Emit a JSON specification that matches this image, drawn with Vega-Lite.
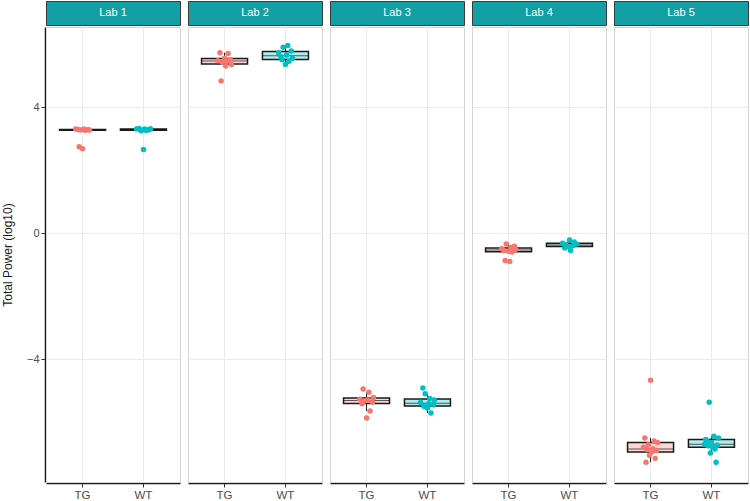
{
  "$schema": "https://vega.github.io/schema/vega-lite/v6.json",
  "padding": {"left": 1, "top": 0, "right": 0, "bottom": 0},
  "background": "white",
  "spacing": 0,
  "config": {
    "font": "Liberation Sans",
    "axisY": {"titleFontSize": 12, "titleFontWeight": "normal", "titleColor": "#1a1a1a", "titlePadding": 12, "labelFontSize": 11, "labelPadding": 2, "tickSize": 4},
    "axisX": {"labelFontSize": 11.5, "labelPadding": 2, "tickSize": 4}
  },
  "vconcat": [
    {
      "data": {"values": [{"lab": "Lab 1"}, {"lab": "Lab 2"}, {"lab": "Lab 3"}, {"lab": "Lab 4"}, {"lab": "Lab 5"}]},
      "facet": {"column": {"field": "lab", "type": "nominal", "header": null}},
      "spacing": {"column": 6},
      "spec": {
        "width": 134,
        "height": 24,
        "view": {"fill": "#13a0a4", "stroke": "#3a3a3a", "strokeWidth": 1},
        "layer": [
          {"mark": {"type": "text", "color": "white", "fontSize": 11}, "encoding": {"text": {"field": "lab", "type": "nominal"}}},
          {"mark": {"type": "rule", "opacity": 0}, "encoding": {"y": {"datum": 0, "type": "quantitative", "scale": {"domain": [-7.9, 6.54], "nice": false, "zero": false}, "axis": {"values": [-4], "title": "T", "labelColor": "transparent", "titleColor": "transparent", "tickColor": "transparent", "domain": false, "grid": false}}}}
        ]
      }
    },
    {
      "data": {"values": [
        {"lab": "Lab 1", "genotype": "TG", "id": 5, "value": 3.27},
        {"lab": "Lab 1", "genotype": "TG", "id": 12, "value": 3.28},
        {"lab": "Lab 1", "genotype": "TG", "id": 1, "value": 3.30},
        {"lab": "Lab 1", "genotype": "TG", "id": 9, "value": 3.26},
        {"lab": "Lab 1", "genotype": "TG", "id": 3, "value": 3.29},
        {"lab": "Lab 1", "genotype": "TG", "id": 13, "value": 3.27},
        {"lab": "Lab 1", "genotype": "TG", "id": 8, "value": 3.30},
        {"lab": "Lab 1", "genotype": "TG", "id": 10, "value": 3.28},
        {"lab": "Lab 1", "genotype": "TG", "id": 4, "value": 2.74},
        {"lab": "Lab 1", "genotype": "TG", "id": 7, "value": 2.68},
        {"lab": "Lab 1", "genotype": "WT", "id": 8, "value": 3.30},
        {"lab": "Lab 1", "genotype": "WT", "id": 3, "value": 3.32},
        {"lab": "Lab 1", "genotype": "WT", "id": 12, "value": 3.28},
        {"lab": "Lab 1", "genotype": "WT", "id": 1, "value": 3.30},
        {"lab": "Lab 1", "genotype": "WT", "id": 10, "value": 3.27},
        {"lab": "Lab 1", "genotype": "WT", "id": 5, "value": 3.25},
        {"lab": "Lab 1", "genotype": "WT", "id": 13, "value": 3.31},
        {"lab": "Lab 1", "genotype": "WT", "id": 4, "value": 3.29},
        {"lab": "Lab 1", "genotype": "WT", "id": 9, "value": 3.26},
        {"lab": "Lab 1", "genotype": "WT", "id": 7, "value": 2.65},
        {"lab": "Lab 2", "genotype": "TG", "id": 3, "value": 5.72},
        {"lab": "Lab 2", "genotype": "TG", "id": 10, "value": 5.70},
        {"lab": "Lab 2", "genotype": "TG", "id": 7, "value": 5.55},
        {"lab": "Lab 2", "genotype": "TG", "id": 12, "value": 5.50},
        {"lab": "Lab 2", "genotype": "TG", "id": 1, "value": 5.47},
        {"lab": "Lab 2", "genotype": "TG", "id": 9, "value": 5.45},
        {"lab": "Lab 2", "genotype": "TG", "id": 5, "value": 5.42},
        {"lab": "Lab 2", "genotype": "TG", "id": 13, "value": 5.35},
        {"lab": "Lab 2", "genotype": "TG", "id": 8, "value": 5.30},
        {"lab": "Lab 2", "genotype": "TG", "id": 4, "value": 4.83},
        {"lab": "Lab 2", "genotype": "WT", "id": 9, "value": 5.95},
        {"lab": "Lab 2", "genotype": "WT", "id": 5, "value": 5.90},
        {"lab": "Lab 2", "genotype": "WT", "id": 12, "value": 5.78},
        {"lab": "Lab 2", "genotype": "WT", "id": 1, "value": 5.72},
        {"lab": "Lab 2", "genotype": "WT", "id": 8, "value": 5.65},
        {"lab": "Lab 2", "genotype": "WT", "id": 3, "value": 5.60},
        {"lab": "Lab 2", "genotype": "WT", "id": 13, "value": 5.55},
        {"lab": "Lab 2", "genotype": "WT", "id": 4, "value": 5.50},
        {"lab": "Lab 2", "genotype": "WT", "id": 10, "value": 5.45},
        {"lab": "Lab 2", "genotype": "WT", "id": 7, "value": 5.35},
        {"lab": "Lab 3", "genotype": "TG", "id": 4, "value": -4.95},
        {"lab": "Lab 3", "genotype": "TG", "id": 9, "value": -5.05},
        {"lab": "Lab 3", "genotype": "TG", "id": 13, "value": -5.22},
        {"lab": "Lab 3", "genotype": "TG", "id": 1, "value": -5.27},
        {"lab": "Lab 3", "genotype": "TG", "id": 8, "value": -5.30},
        {"lab": "Lab 3", "genotype": "TG", "id": 5, "value": -5.33},
        {"lab": "Lab 3", "genotype": "TG", "id": 12, "value": -5.36},
        {"lab": "Lab 3", "genotype": "TG", "id": 3, "value": -5.42},
        {"lab": "Lab 3", "genotype": "TG", "id": 10, "value": -5.65},
        {"lab": "Lab 3", "genotype": "TG", "id": 7, "value": -5.87},
        {"lab": "Lab 3", "genotype": "WT", "id": 3, "value": -4.92},
        {"lab": "Lab 3", "genotype": "WT", "id": 5, "value": -5.10},
        {"lab": "Lab 3", "genotype": "WT", "id": 9, "value": -5.25},
        {"lab": "Lab 3", "genotype": "WT", "id": 13, "value": -5.30},
        {"lab": "Lab 3", "genotype": "WT", "id": 1, "value": -5.38},
        {"lab": "Lab 3", "genotype": "WT", "id": 8, "value": -5.42},
        {"lab": "Lab 3", "genotype": "WT", "id": 12, "value": -5.45},
        {"lab": "Lab 3", "genotype": "WT", "id": 4, "value": -5.50},
        {"lab": "Lab 3", "genotype": "WT", "id": 7, "value": -5.55},
        {"lab": "Lab 3", "genotype": "WT", "id": 10, "value": -5.71},
        {"lab": "Lab 4", "genotype": "TG", "id": 5, "value": -0.35},
        {"lab": "Lab 4", "genotype": "TG", "id": 12, "value": -0.42},
        {"lab": "Lab 4", "genotype": "TG", "id": 9, "value": -0.46},
        {"lab": "Lab 4", "genotype": "TG", "id": 1, "value": -0.50},
        {"lab": "Lab 4", "genotype": "TG", "id": 13, "value": -0.52},
        {"lab": "Lab 4", "genotype": "TG", "id": 3, "value": -0.55},
        {"lab": "Lab 4", "genotype": "TG", "id": 7, "value": -0.58},
        {"lab": "Lab 4", "genotype": "TG", "id": 10, "value": -0.60},
        {"lab": "Lab 4", "genotype": "TG", "id": 4, "value": -0.87},
        {"lab": "Lab 4", "genotype": "TG", "id": 8, "value": -0.90},
        {"lab": "Lab 4", "genotype": "WT", "id": 7, "value": -0.22},
        {"lab": "Lab 4", "genotype": "WT", "id": 11, "value": -0.28},
        {"lab": "Lab 4", "genotype": "WT", "id": 1, "value": -0.32},
        {"lab": "Lab 4", "genotype": "WT", "id": 13, "value": -0.35},
        {"lab": "Lab 4", "genotype": "WT", "id": 4, "value": -0.38},
        {"lab": "Lab 4", "genotype": "WT", "id": 10, "value": -0.40},
        {"lab": "Lab 4", "genotype": "WT", "id": 6, "value": -0.43},
        {"lab": "Lab 4", "genotype": "WT", "id": 3, "value": -0.47},
        {"lab": "Lab 4", "genotype": "WT", "id": 8, "value": -0.55},
        {"lab": "Lab 5", "genotype": "TG", "id": 7, "value": -4.67},
        {"lab": "Lab 5", "genotype": "TG", "id": 2, "value": -6.50},
        {"lab": "Lab 5", "genotype": "TG", "id": 10, "value": -6.60},
        {"lab": "Lab 5", "genotype": "TG", "id": 13, "value": -6.65},
        {"lab": "Lab 5", "genotype": "TG", "id": 5, "value": -6.72},
        {"lab": "Lab 5", "genotype": "TG", "id": 1, "value": -6.80},
        {"lab": "Lab 5", "genotype": "TG", "id": 9, "value": -6.85},
        {"lab": "Lab 5", "genotype": "TG", "id": 4, "value": -6.87},
        {"lab": "Lab 5", "genotype": "TG", "id": 12, "value": -6.90},
        {"lab": "Lab 5", "genotype": "TG", "id": 8, "value": -6.95},
        {"lab": "Lab 5", "genotype": "TG", "id": 6, "value": -7.05},
        {"lab": "Lab 5", "genotype": "TG", "id": 11, "value": -7.15},
        {"lab": "Lab 5", "genotype": "TG", "id": 3, "value": -7.27},
        {"lab": "Lab 5", "genotype": "WT", "id": 5, "value": -5.37},
        {"lab": "Lab 5", "genotype": "WT", "id": 9, "value": -6.45},
        {"lab": "Lab 5", "genotype": "WT", "id": 13, "value": -6.50},
        {"lab": "Lab 5", "genotype": "WT", "id": 2, "value": -6.55},
        {"lab": "Lab 5", "genotype": "WT", "id": 3, "value": -6.60},
        {"lab": "Lab 5", "genotype": "WT", "id": 7, "value": -6.65},
        {"lab": "Lab 5", "genotype": "WT", "id": 1, "value": -6.70},
        {"lab": "Lab 5", "genotype": "WT", "id": 12, "value": -6.73},
        {"lab": "Lab 5", "genotype": "WT", "id": 4, "value": -6.75},
        {"lab": "Lab 5", "genotype": "WT", "id": 8, "value": -6.80},
        {"lab": "Lab 5", "genotype": "WT", "id": 10, "value": -6.85},
        {"lab": "Lab 5", "genotype": "WT", "id": 6, "value": -6.98},
        {"lab": "Lab 5", "genotype": "WT", "id": 11, "value": -7.27}
      ]},
      "facet": {"column": {"field": "lab", "type": "nominal", "header": null}},
      "spacing": {"column": 6},
      "spec": {
        "width": 134,
        "height": 455,
        "view": {"stroke": "#d4d4d4", "strokeWidth": 1},
        "encoding": {
          "x": {"field": "genotype", "type": "nominal", "scale": {"paddingInner": 0, "paddingOuter": 0.1}, "axis": {"title": null, "labelAngle": 0, "bandPosition": 0.5, "grid": true, "gridColor": "#ebebeb", "domainColor": "#1a1a1a", "domainWidth": 1.5, "tickColor": "#333333", "labelColor": "#4d4d4d"}},
          "y": {"field": "value", "type": "quantitative", "scale": {"domain": [-7.9, 6.54], "nice": false, "zero": false}, "axis": {"values": [-4, 0, 4], "title": "Total Power (log10)", "grid": true, "gridColor": "#ebebeb", "domainColor": "#1a1a1a", "domainWidth": 1.5, "tickColor": "#333333", "labelColor": "#4d4d4d"}}
        },
        "layer": [
          {
            "mark": {"type": "boxplot", "extent": 1.5, "outliers": false, "size": 46, "box": {"stroke": "#1a1a1a", "strokeWidth": 1.5, "fillOpacity": 0.3}, "median": {"color": "#1a1a1a", "strokeWidth": 2.5}, "rule": {"color": "#1a1a1a"}},
            "encoding": {"color": {"field": "genotype", "type": "nominal", "scale": {"domain": ["TG", "WT"], "range": ["#F8766D", "#00BFC4"]}, "legend": null}}
          },
          {
            "mark": {"type": "circle", "size": 30, "opacity": 1},
            "encoding": {
              "xOffset": {"field": "id", "type": "ordinal", "scale": {"type": "point", "range": [23, 38]}},
              "color": {"field": "genotype", "type": "nominal", "legend": null}
            }
          }
        ]
      }
    }
  ]
}
